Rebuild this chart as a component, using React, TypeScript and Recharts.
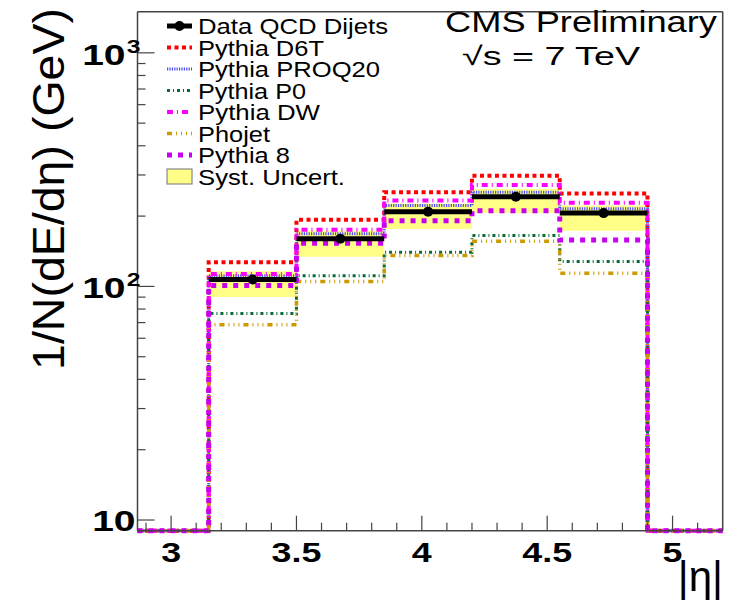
import React from 'react';
import { ComposedChart, Line, Area, Scatter, ErrorBar, XAxis, YAxis } from 'recharts';

// ---- data ----
const binEdges = [3.15, 3.5, 3.85, 4.2, 4.55, 4.9];
const binCenters = [3.325, 3.675, 4.025, 4.375, 4.725];
const xRange = [2.866, 5.2];
const yRange = [9, 1500];

const dataQCD = [107, 160, 209, 242, 206];
const systLow = [90, 134, 176, 206, 173];
const systHigh = [116, 173, 226, 261, 222];
const pythiaD6T = [127, 193, 253, 298, 250];
const pythiaPROQ20 = [111, 168, 222, 253, 215];
const pythiaP0 = [76.5, 111, 140, 165, 128];
const pythiaDW = [113, 175, 233, 272, 228];
const phojet = [68.6, 105, 135.5, 156, 114];
const pythia8 = [101, 153, 191, 211, 158];

const yMajorTicks = [10, 100, 1000];
const yMinorTicks = [20, 30, 40, 50, 60, 70, 80, 90, 200, 300, 400, 500, 600, 700, 800, 900];
const yTickLabels = ['10', '10|2', '10|3'];
const xMajorTicks = [3, 3.5, 4, 4.5, 5];
const xMinorTicks = [2.9, 3.1, 3.2, 3.3, 3.4, 3.6, 3.7, 3.8, 3.9, 4.1, 4.2, 4.3, 4.4, 4.6, 4.7, 4.8, 4.9, 5.1];
const xTickLabels = ['3', '3.5', '4', '4.5', '5'];

const legendNames = ['Data QCD Dijets', 'Pythia D6T', 'Pythia PROQ20', 'Pythia P0', 'Pythia DW', 'Phojet', 'Pythia 8', 'Syst. Uncert.'];

// ---- styles ----
const W = 733;
const H = 605;
const PL = 137.5;
const PR = 722.7;
const PT = 11.7;
const PB = 530.7;
const AX = 1; // axis thickness in layout
const FONT = '"Liberation Sans", Arial, Helvetica, sans-serif';
const FRAME = '#444';

const modelSeries = [
  { key: 'd6t', values: pythiaD6T, name: legendNames[1], color: '#ff0000', width: 4, dash: '4 3.5' },
  { key: 'proq20', values: pythiaPROQ20, name: legendNames[2], color: '#4a4aff', width: 3, dash: '1.2 1.2' },
  { key: 'p0', values: pythiaP0, name: legendNames[3], color: '#0a6b3a', width: 3, dash: '3 3 1 3' },
  { key: 'dw', values: pythiaDW, name: legendNames[4], color: '#ff00ff', width: 4, dash: '6 4 1 4' },
  { key: 'phojet', values: phojet, name: legendNames[5], color: '#cc9900', width: 3.5, dash: '5 4 1 4 1 4 1 4' },
  { key: 'py8', values: pythia8, name: legendNames[6], color: '#c800f0', width: 5, dash: '5 6' },
];

const floor = yRange[0];
const rows: any[] = [];
{
  const first: any = { x: xRange[0] };
  modelSeries.forEach((s) => (first[s.key] = floor));
  rows.push(first);
  binEdges.forEach((e, i) => {
    const r: any = { x: e };
    modelSeries.forEach((s) => (r[s.key] = i < s.values.length ? s.values[i] : floor));
    const j = Math.min(i, systLow.length - 1);
    r.band = [systLow[j], systHigh[j]];
    rows.push(r);
  });
  const last: any = { x: xRange[1] };
  modelSeries.forEach((s) => (last[s.key] = floor));
  rows.push(last);
}

const points = binCenters.map((c, i) => ({ x: c, y: dataQCD[i], xerr: (binEdges[i + 1] - binEdges[i]) / 2 }));

const YTick = (props: any) => {
  const { y, payload } = props;
  const v = payload.value;
  const mi = yMajorTicks.indexOf(v);
  const major = mi >= 0;
  let label: any = null;
  if (major) {
    const [base, sup] = yTickLabels[mi].split('|');
    label = sup ? (
      <g transform={`translate(${PL - 12},${y + 12}) scale(1.3,1)`}>
        <text textAnchor="end" fontFamily={FONT} fontWeight="bold" fontSize={30} fill="#000">
          {base}
        </text>
        <text x={1} y={-12} textAnchor="start" fontFamily={FONT} fontWeight="bold" fontSize={19} fill="#000">
          {sup}
        </text>
      </g>
    ) : (
      <g transform={`translate(${PL - 2},${y + 11}) scale(1.3,1)`}>
        <text textAnchor="end" fontFamily={FONT} fontWeight="bold" fontSize={30} fill="#000">
          {base}
        </text>
      </g>
    );
  }
  return (
    <g>
      <line x1={PL} x2={PL + (major ? 17 : 8)} y1={y} y2={y} stroke={FRAME} strokeWidth={1.2} />
      {label}
    </g>
  );
};

const XTick = (props: any) => {
  const { x, payload } = props;
  const v = payload.value;
  const mi = xMajorTicks.findIndex((t) => Math.abs(t - v) < 1e-6);
  const major = mi >= 0;
  return (
    <g>
      <line x1={x} x2={x} y1={PB} y2={PB - (major ? 15 : 8)} stroke={FRAME} strokeWidth={1.2} />
      {major && (
        <g transform={`translate(${x},561.7) scale(1.28,1)`}>
          <text textAnchor="middle" fontFamily={FONT} fontWeight="bold" fontSize={28} fill="#000">
            {xTickLabels[mi]}
          </text>
        </g>
      )}
    </g>
  );
};

const DataShape = (props: any) => <circle cx={props.cx} cy={props.cy} r={5} fill="#000" />;

const legendWidths = [190, 126, 182, 108, 122, 72, 92, 147];

const Overlay = () => {
  const rowY = (i: number) => 26 + 21.5 * i;
  return (
    <svg width={W} height={H} style={{ position: 'absolute', left: 0, top: 0, pointerEvents: 'none' }}>
      {/* y title */}
      <text
        transform="translate(64,189) rotate(-90)"
        textAnchor="middle"
        fontFamily={FONT}
        fontSize={44}
        textLength={362}
        lengthAdjust="spacingAndGlyphs"
        fill="#000"
      >
        1/N(dE/dη) (GeV)
      </text>
      {/* x title */}
      <text x={723} y={591} textAnchor="end" fontFamily={FONT} fontSize={42} fill="#000">
        |η|
      </text>
      {/* CMS text */}
      <text x={445} y={32} fontFamily={FONT} fontSize={29} textLength={272} lengthAdjust="spacingAndGlyphs" fill="#000">
        CMS Preliminary
      </text>
      <text x={462} y={65} fontFamily={FONT} fontSize={26} textLength={178} lengthAdjust="spacingAndGlyphs" fill="#000">
        √s = 7 TeV
      </text>
      {/* legend */}
      {legendNames.map((n, i) => {
        const cy = rowY(i);
        let sym: any;
        if (i === 0) {
          sym = (
            <g>
              <line x1={167} x2={192} y1={cy} y2={cy} stroke="#000" strokeWidth={5} />
              <circle cx={179.5} cy={cy} r={5} fill="#000" />
            </g>
          );
        } else if (i === legendNames.length - 1) {
          sym = <rect x={167} y={cy - 7.5} width={25} height={15} fill="#ffff88" stroke="#888" strokeWidth={1.2} />;
        } else {
          const s = modelSeries[i - 1];
          sym = <line x1={167} x2={192} y1={cy} y2={cy} stroke={s.color} strokeWidth={s.width} strokeDasharray={s.dash} />;
        }
        return (
          <g key={n}>
            {sym}
            <text
              x={198}
              y={cy + 8}
              fontFamily={FONT}
              fontSize={22}
              textLength={legendWidths[i]}
              lengthAdjust="spacingAndGlyphs"
              fill="#000"
            >
              {n}
            </text>
          </g>
        );
      })}
    </svg>
  );
};

export default function App() {
  const xTicks = [...xMinorTicks, ...xMajorTicks].sort((a, b) => a - b);
  const yTicks = [...yMajorTicks, ...yMinorTicks].sort((a, b) => a - b);
  return (
    <div style={{ position: 'absolute', left: 0, top: 0, width: W, height: H, background: '#fff' }}>
      <ComposedChart
        width={W}
        height={H}
        data={rows}
        margin={{ top: PT - AX, right: W - PR - AX, bottom: H - PB - AX, left: PL - AX }}
      >
        <XAxis
          dataKey="x"
          type="number"
          domain={xRange}
          ticks={xTicks}
          interval={0}
          tick={<XTick />}
          tickLine={false}
          height={AX}
          axisLine={{ stroke: FRAME, strokeWidth: 1.5 }}
        />
        <XAxis
          xAxisId="top"
          orientation="top"
          dataKey="x"
          type="number"
          domain={xRange}
          tick={false}
          tickLine={false}
          height={AX}
          axisLine={{ stroke: FRAME, strokeWidth: 1.5 }}
        />
        <YAxis
          scale="log"
          type="number"
          domain={yRange}
          ticks={yTicks}
          interval={0}
          tick={<YTick />}
          tickLine={false}
          width={AX}
          axisLine={{ stroke: FRAME, strokeWidth: 1.5 }}
        />
        <YAxis
          yAxisId="right"
          orientation="right"
          scale="log"
          type="number"
          domain={yRange}
          tick={false}
          tickLine={false}
          width={AX}
          axisLine={{ stroke: FRAME, strokeWidth: 1.5 }}
        />
        <Area
          type="stepAfter"
          dataKey="band"
          fill="#ffff88"
          fillOpacity={1}
          stroke="none"
          isAnimationActive={false}
          activeDot={false}
        />
        {modelSeries.map((s) => (
          <Line
            key={s.key}
            type="stepAfter"
            dataKey={s.key}
            stroke={s.color}
            strokeWidth={s.width}
            strokeDasharray={s.dash}
            dot={false}
            activeDot={false}
            isAnimationActive={false}
          />
        ))}
        <Scatter data={points} dataKey="y" fill="#000" shape={<DataShape />} isAnimationActive={false}>
          <ErrorBar dataKey="xerr" direction="x" width={0} strokeWidth={5} stroke="#000" />
        </Scatter>
      </ComposedChart>
      <Overlay />
    </div>
  );
}
